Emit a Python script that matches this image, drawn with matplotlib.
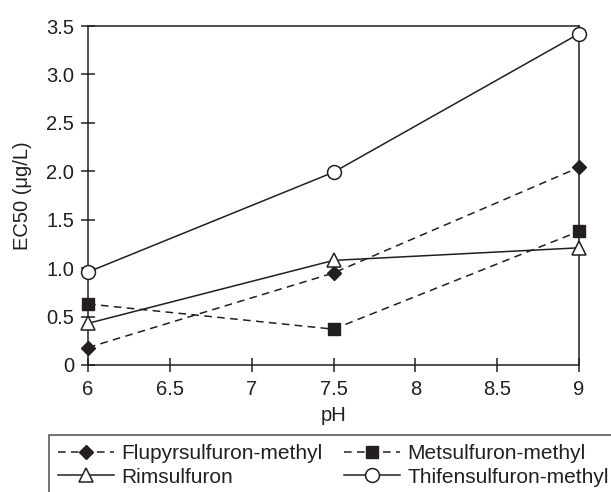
import matplotlib
matplotlib.use("Agg")
import matplotlib.pyplot as plt

plt.rcParams['font.family'] = ['Liberation Sans', 'DejaVu Sans']

ph = [6, 7.5, 9]
flupyrsulfuron = [0.18, 0.95, 2.04]
metsulfuron = [0.63, 0.37, 1.38]
rimsulfuron = [0.43, 1.08, 1.21]
thifensulfuron = [0.96, 1.99, 3.42]

xticks = [6, 6.5, 7, 7.5, 8, 8.5, 9]
yticks = [0, 0.5, 1.0, 1.5, 2.0, 2.5, 3.0, 3.5]
ytick_labels = ['0', '0.5', '1.0', '1.5', '2.0', '2.5', '3.0', '3.5']

fig = plt.figure(figsize=(6.11, 4.92), dpi=100)
ax = fig.add_axes([88/611, 1 - 365/492, (579-88)/611, (365-26)/492])

c = '#231f20'
dash = (0, (5, 3.5))
h1, = ax.plot(ph, flupyrsulfuron, color=c, lw=1.1, linestyle=dash, marker='D',
              ms=7, mfc=c, mec=c, label='Flupyrsulfuron-methyl', clip_on=False, zorder=3)
h2, = ax.plot(ph, metsulfuron, color=c, lw=1.1, linestyle=dash, marker='s',
              ms=9, mfc=c, mec=c, label='Metsulfuron-methyl', clip_on=False, zorder=3)
h3, = ax.plot(ph, rimsulfuron, color=c, lw=1.1, marker='^', ms=10, mfc='white',
              mec=c, mew=1.1, label='Rimsulfuron', clip_on=False, zorder=3)
h4, = ax.plot(ph, thifensulfuron, color=c, lw=1.1, marker='o', ms=10, mfc='white',
              mec=c, mew=1.1, label='Thifensulfuron-methyl', clip_on=False, zorder=3)

ax.set_xlim(6, 9)
ax.set_ylim(0, 3.5)
ax.set_xticks(xticks)
ax.set_xticklabels([('%g' % t) for t in xticks])
ax.set_yticks(yticks)
ax.set_yticklabels(ytick_labels)
ax.tick_params(direction='inout', length=10, width=1.1, color=c,
               labelsize=14.5, labelcolor=c)
ax.tick_params(axis='x', pad=6)
ax.tick_params(axis='y', pad=5)
for s in ax.spines.values():
    s.set_linewidth(1.1)
    s.set_color(c)

ax.set_xlabel('pH', fontsize=14.5, color=c, labelpad=5)
ax.set_ylabel('EC50 (μg/L)', fontsize=14.5, color=c, labelpad=10)

# row-major order like the original legend
handles = [h1, h3, h2, h4]
leg = fig.legend(handles=handles, labels=[h.get_label() for h in handles],
                 loc='upper left', bbox_to_anchor=(49/611, 1 - 435/492),
                 ncol=2, fontsize=15, frameon=True, fancybox=False,
                 handlelength=2.7, handletextpad=0.35, columnspacing=1.0,
                 labelspacing=0.22, borderpad=0.43, numpoints=1,
                 borderaxespad=0)
leg.get_frame().set_edgecolor(c)
leg.get_frame().set_linewidth(1.1)
for t in leg.get_texts():
    t.set_color(c)

fig.savefig('out.png', dpi=100)
